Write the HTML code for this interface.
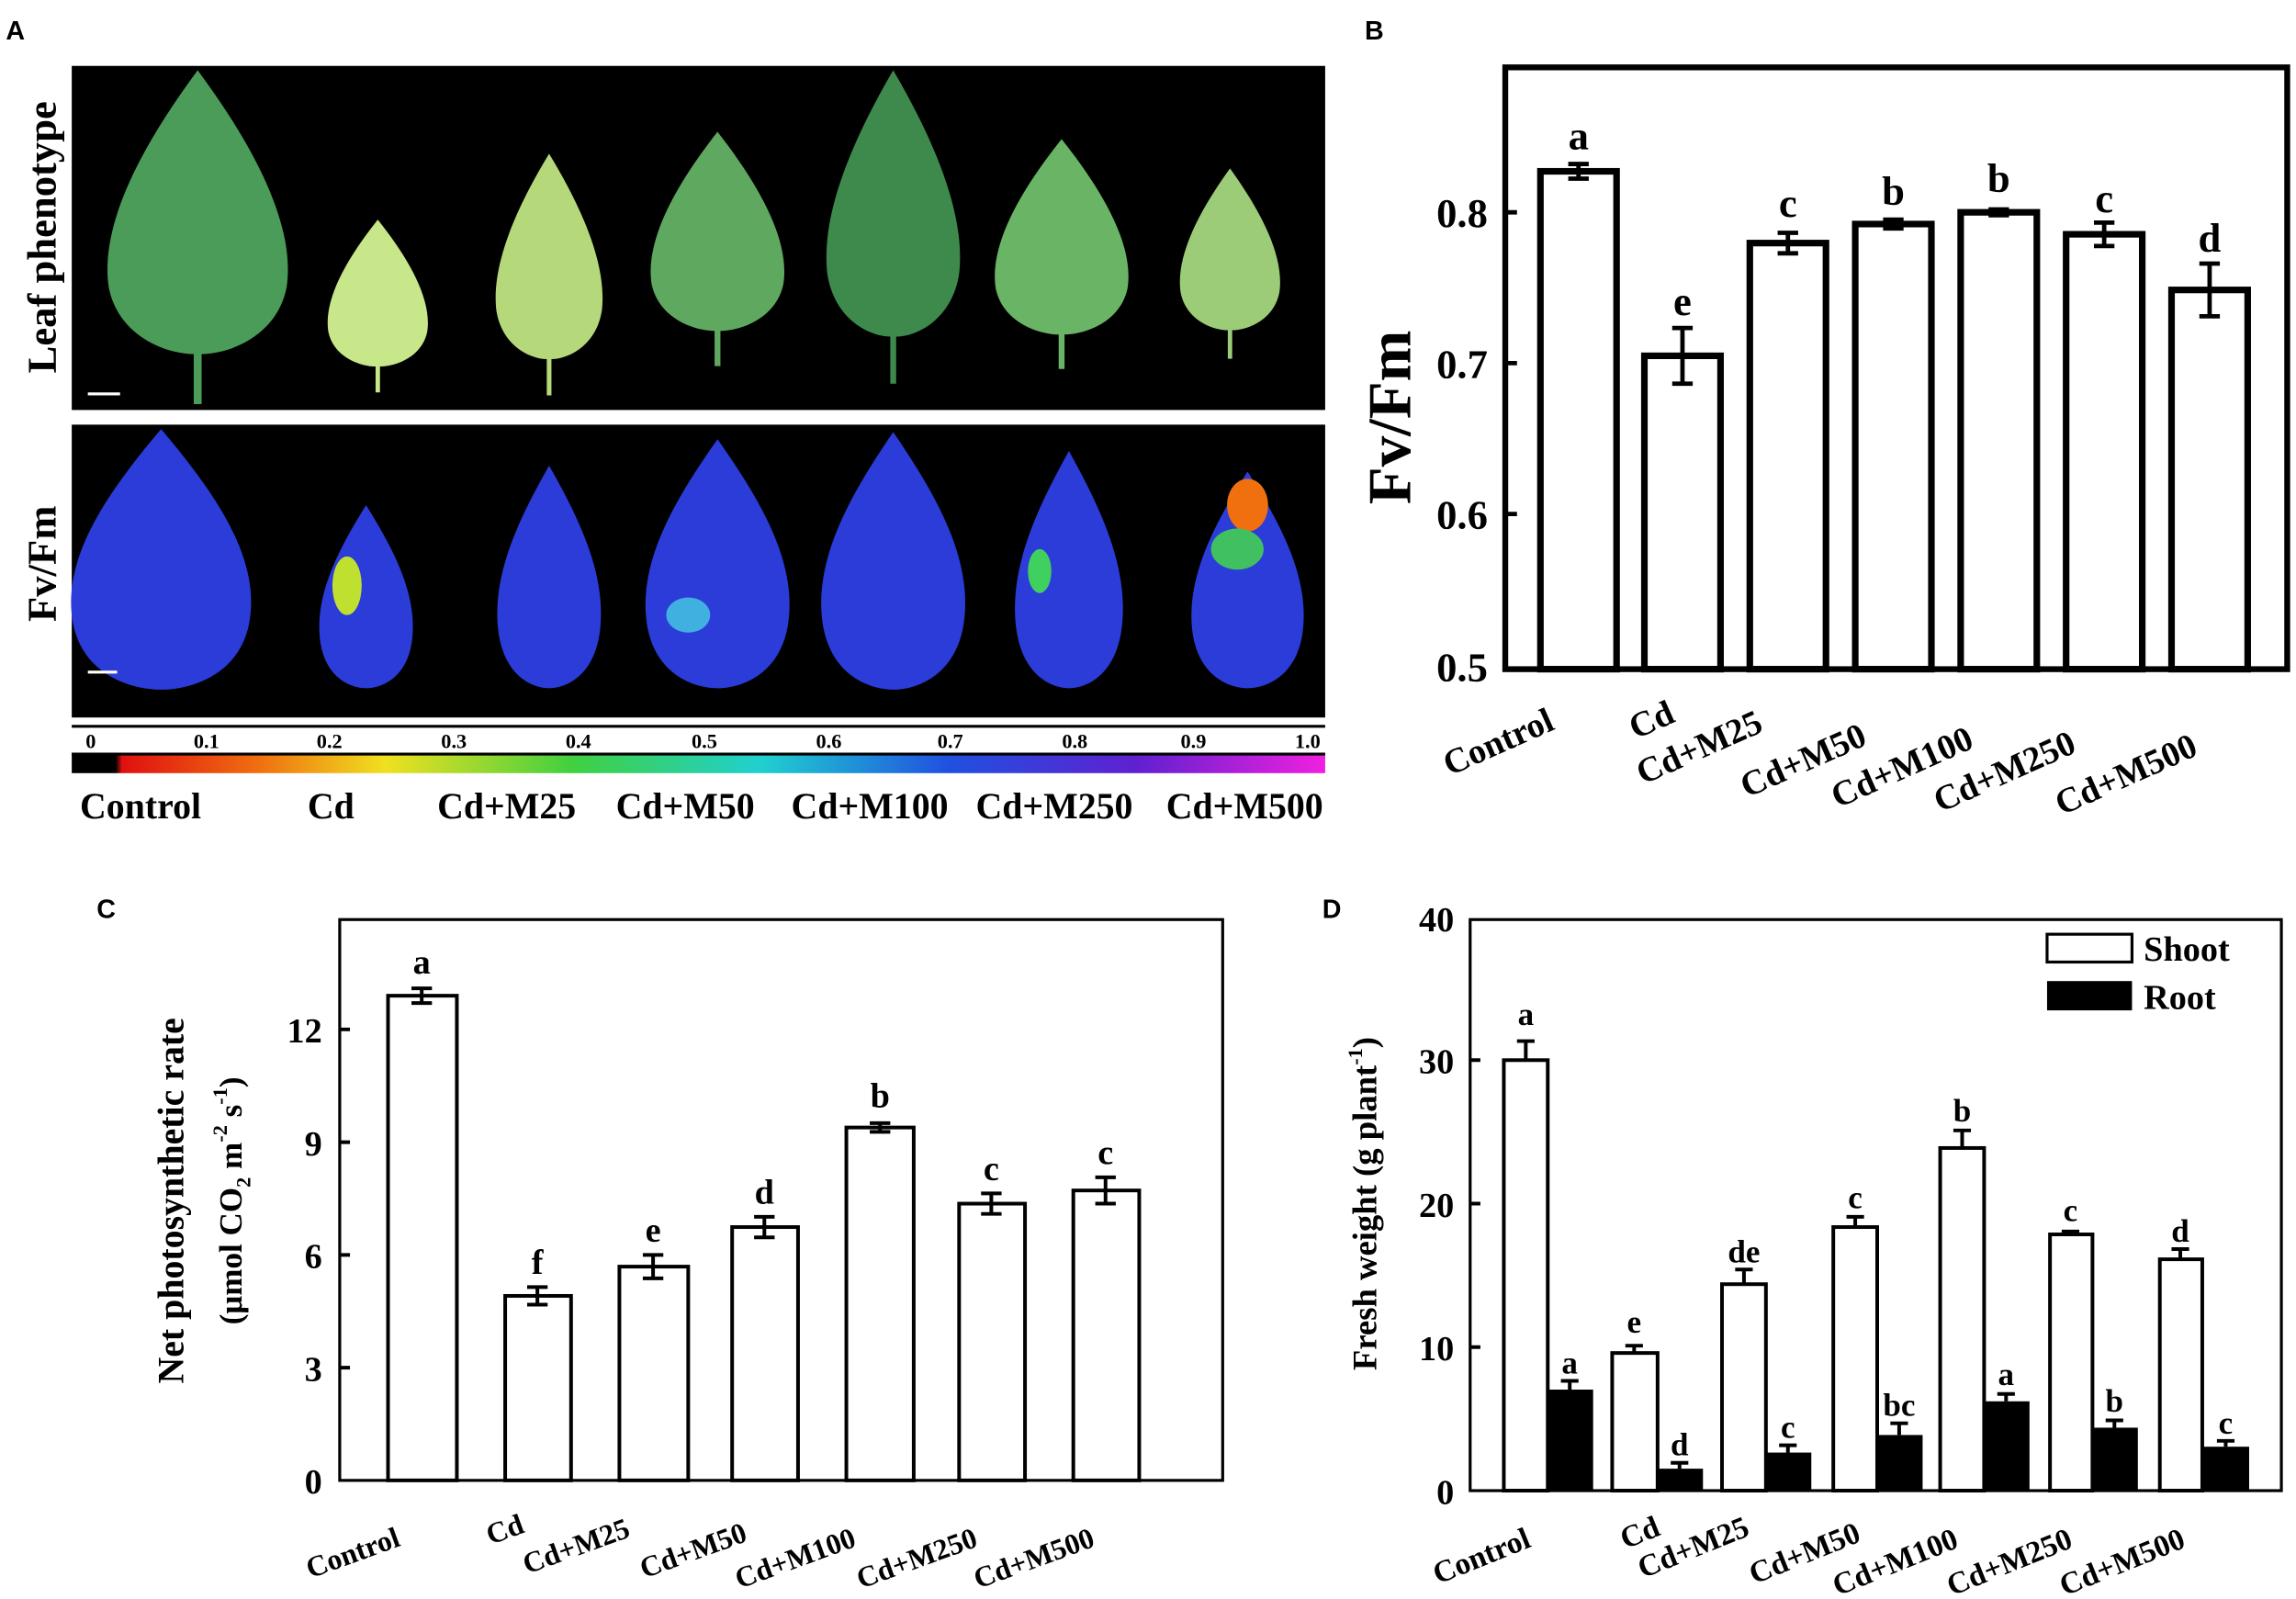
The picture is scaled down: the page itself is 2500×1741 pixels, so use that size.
<!DOCTYPE html>
<html><head><meta charset="utf-8"><style>
html,body{margin:0;padding:0;background:#fff}
svg{display:block}
text{font-family:"Liberation Serif",serif;font-weight:bold;fill:#000}
.s{font-family:"Liberation Sans",sans-serif}
</style></head><body>
<svg width="2500" height="1741" viewBox="0 0 1568 1092" preserveAspectRatio="none" xmlns="http://www.w3.org/2000/svg">
<defs>
<path id="leaf" d="M0,0 C.25,.2 .5,.45 .45,.65 C.4,.8 .15,.85 .02,.85 L.02,1 L-.02,1 L-.02,.85 C-.15,.85 -.4,.8 -.45,.65 C-.5,.45 -.25,.2 0,0 Z"/>
<path id="fl" d="M0,0 C.3,.25 .55,.5 .48,.75 C.42,.95 .15,1 0,1 C-.15,1 -.42,.95 -.48,.75 C-.55,.5 -.3,.25 0,0 Z"/>
<linearGradient id="cb" x1="0" x2="1">
<stop offset="0" stop-color="#000"/><stop offset=".035" stop-color="#000"/><stop offset=".04" stop-color="#e01010"/>
<stop offset=".15" stop-color="#f07010"/><stop offset=".25" stop-color="#f0e020"/><stop offset=".4" stop-color="#40d040"/>
<stop offset=".55" stop-color="#20d0d0"/><stop offset=".7" stop-color="#2050e0"/><stop offset=".85" stop-color="#6020d0"/><stop offset="1" stop-color="#f020e0"/>
</linearGradient>
</defs>
<!-- Panel A -->
<text x="4" y="27" class="s" font-size="18">A</text>
<rect x="49" y="45" width="856" height="235" fill="#000"/>
<rect x="49" y="290" width="856" height="200" fill="#000"/>
<text transform="translate(38,162) rotate(-90)" text-anchor="middle" font-size="28">Leaf phenotype</text>
<text transform="translate(38,385) rotate(-90)" text-anchor="middle" font-size="28">Fv/Fm</text>
<g>
<use href="#leaf" transform="translate(135,48) scale(135,228)" fill="#4a9c58"/>
<use href="#leaf" transform="translate(258,150) scale(75,118)" fill="#c8e68a"/>
<use href="#leaf" transform="translate(375,105) scale(80,165)" fill="#b5d97a"/>
<use href="#leaf" transform="translate(490,90) scale(100,160)" fill="#5fa860"/>
<use href="#leaf" transform="translate(610,48) scale(100,214)" fill="#3d8a4c"/>
<use href="#leaf" transform="translate(725,95) scale(100,157)" fill="#6ab565"/>
<use href="#leaf" transform="translate(840,115) scale(75,130)" fill="#9ccc78"/>
<rect x="60" y="268" width="22" height="2" fill="#fff"/>
</g>
<g fill="#2b3cd8">
<use href="#fl" transform="translate(110,293) scale(125,178)"/>
<use href="#fl" transform="translate(250,345) scale(65,125)"/>
<use href="#fl" transform="translate(375,318) scale(72,152)"/>
<use href="#fl" transform="translate(490,300) scale(100,170)"/>
<use href="#fl" transform="translate(610,295) scale(100,176)"/>
<use href="#fl" transform="translate(730,308) scale(75,162)"/>
<use href="#fl" transform="translate(852,322) scale(78,148)"/>
<ellipse cx="237" cy="400" rx="10" ry="20" fill="#c0e030"/>
<ellipse cx="470" cy="420" rx="15" ry="12" fill="#40b0e0"/>
<ellipse cx="710" cy="390" rx="8" ry="15" fill="#40d060"/>
<ellipse cx="852" cy="345" rx="14" ry="18" fill="#f07010"/>
<ellipse cx="845" cy="375" rx="18" ry="14" fill="#40c060"/>
<rect x="60" y="458" width="20" height="2" fill="#fff"/>
</g>
<line x1="49" y1="496" x2="905" y2="496" stroke="#000" stroke-width="2"/>
<g font-size="14" text-anchor="middle" class="s">
<text x="62" y="511">0</text><text x="141" y="511">0.1</text><text x="225" y="511">0.2</text><text x="310" y="511">0.3</text><text x="395" y="511">0.4</text><text x="481" y="511">0.5</text><text x="566" y="511">0.6</text><text x="649" y="511">0.7</text><text x="734" y="511">0.8</text><text x="815" y="511">0.9</text><text x="893" y="511">1.0</text>
</g>
<rect x="49" y="514" width="856" height="14" fill="url(#cb)"/>
<line x1="49" y1="515" x2="905" y2="515" stroke="#000" stroke-width="2"/>
<g font-size="25" text-anchor="middle">
<text x="96" y="559">Control</text><text x="226" y="559">Cd</text><text x="346" y="559">Cd+M25</text><text x="468" y="559">Cd+M50</text><text x="594" y="559">Cd+M100</text><text x="720" y="559">Cd+M250</text><text x="850" y="559">Cd+M500</text>
</g>
<!-- Panel B -->
<text x="932" y="27" class="s" font-size="18">B</text>
<rect x="1028" y="46" width="534" height="411" fill="#fff" stroke="#000" stroke-width="4"/>
<g fill="#fff" stroke="#000" stroke-width="4.5">
<rect x="1052" y="117" width="52" height="340"/>
<rect x="1123" y="243" width="52" height="214"/>
<rect x="1195" y="166" width="52" height="291"/>
<rect x="1267" y="153" width="52" height="304"/>
<rect x="1339" y="145" width="52" height="312"/>
<rect x="1411" y="160" width="52" height="297"/>
<rect x="1483" y="198" width="52" height="259"/>
</g>
<g stroke="#000" stroke-width="3">
<path d="M1078 112V122M1071 112H1085M1071 122H1085"/>
<path d="M1149 224V262M1142 224H1156M1142 262H1156"/>
<path d="M1221 159V173M1214 159H1228M1214 173H1228"/>
<path d="M1293 150V156M1286 150H1300M1286 156H1300"/>
<path d="M1365 143V147M1358 143H1372M1358 147H1372"/>
<path d="M1437 152V168M1430 152H1444M1430 168H1444"/>
<path d="M1509 180V216M1502 180H1516M1502 216H1516"/>
<path d="M1028 145H1036M1028 248H1036M1028 351H1036"/>
</g>
<g font-size="28" text-anchor="middle">
<text x="1078" y="102">a</text><text x="1149" y="215">e</text><text x="1221" y="148">c</text><text x="1293" y="140">b</text><text x="1365" y="131">b</text><text x="1437" y="145">c</text><text x="1509" y="172">d</text>
</g>
<g font-size="28" text-anchor="end">
<text x="1016" y="155">0.8</text><text x="1016" y="258">0.7</text><text x="1016" y="361">0.6</text><text x="1016" y="465">0.5</text>
</g>
<text transform="translate(963,285) rotate(-90)" text-anchor="middle" font-size="42">Fv/Fm</text>
<g font-size="24">
<text transform="translate(990,530) rotate(-24)">Control</text>
<text transform="translate(1117,505) rotate(-24)">Cd</text>
<text transform="translate(1122,536) rotate(-24)">Cd+M25</text>
<text transform="translate(1193,545) rotate(-24)">Cd+M50</text>
<text transform="translate(1255,552) rotate(-24)">Cd+M100</text>
<text transform="translate(1325,555) rotate(-24)">Cd+M250</text>
<text transform="translate(1408,557) rotate(-24)">Cd+M500</text>
</g>
<!-- Panel C -->
<text x="66" y="627" class="s" font-size="18">C</text>
<g fill="#fff" stroke="#000" stroke-width="2.5">
<rect x="232" y="628" width="603" height="383" stroke-width="2"/>
<rect x="265" y="680" width="47" height="331"/>
<rect x="345" y="885" width="45" height="126"/>
<rect x="423" y="865" width="47" height="146"/>
<rect x="500" y="838" width="45" height="173"/>
<rect x="578" y="770" width="46" height="241"/>
<rect x="655" y="822" width="45" height="189"/>
<rect x="733" y="813" width="45" height="198"/>
</g>
<g stroke="#000" stroke-width="2.5">
<path d="M288 675V685M281 675H295M281 685H295"/>
<path d="M367 879V891M360 879H374M360 891H374"/>
<path d="M446 857V873M439 857H453M439 873H453"/>
<path d="M522 831V845M515 831H529M515 845H529"/>
<path d="M601 767V773M594 767H608M594 773H608"/>
<path d="M677 815V829M670 815H684M670 829H684"/>
<path d="M755 804V822M748 804H762M748 822H762"/>
<path d="M232 703H239M232 780H239M232 857H239M232 934H239"/>
</g>
<g font-size="24" text-anchor="middle">
<text x="288" y="665">a</text><text x="367" y="870">f</text><text x="446" y="848">e</text><text x="522" y="822">d</text><text x="601" y="756">b</text><text x="677" y="806">c</text><text x="755" y="795">c</text>
</g>
<g font-size="24" text-anchor="end">
<text x="220" y="712">12</text><text x="220" y="789">9</text><text x="220" y="866">6</text><text x="220" y="943">3</text><text x="220" y="1020">0</text>
</g>
<text transform="translate(125,820) rotate(-90)" text-anchor="middle" font-size="25">Net photosynthetic rate</text>
<text transform="translate(165,820) rotate(-90)" text-anchor="middle" font-size="22">(μmol CO<tspan font-size="14" dy="6">2</tspan><tspan dy="-6"> m</tspan><tspan font-size="14" dy="-10">-2</tspan><tspan dy="10"> s</tspan><tspan font-size="14" dy="-10">-1</tspan><tspan dy="10">)</tspan></text>
<g font-size="20">
<text transform="translate(212,1078) rotate(-20)">Control</text>
<text transform="translate(335,1055) rotate(-20)">Cd</text>
<text transform="translate(360,1075) rotate(-20)">Cd+M25</text>
<text transform="translate(440,1078) rotate(-20)">Cd+M50</text>
<text transform="translate(505,1085) rotate(-20)">Cd+M100</text>
<text transform="translate(588,1085) rotate(-20)">Cd+M250</text>
<text transform="translate(668,1085) rotate(-20)">Cd+M500</text>
</g>
<!-- Panel D -->
<text x="903" y="627" class="s" font-size="18">D</text>
<rect x="1004" y="628" width="554" height="390" fill="#fff" stroke="#000" stroke-width="2"/>
<g stroke="#000" stroke-width="2.5" fill="#fff">
<rect x="1027" y="724" width="30" height="294"/>
<rect x="1101" y="924" width="31" height="94"/>
<rect x="1176" y="877" width="30" height="141"/>
<rect x="1252" y="838" width="30" height="180"/>
<rect x="1325" y="784" width="30" height="234"/>
<rect x="1400" y="843" width="29" height="175"/>
<rect x="1475" y="860" width="29" height="158"/>
</g>
<g fill="#000">
<rect x="1057" y="949" width="31" height="69"/>
<rect x="1132" y="1003" width="31" height="15"/>
<rect x="1206" y="992" width="31" height="26"/>
<rect x="1282" y="980" width="31" height="38"/>
<rect x="1355" y="957" width="31" height="61"/>
<rect x="1429" y="975" width="31" height="43"/>
<rect x="1504" y="988" width="32" height="30"/>
</g>
<g stroke="#000" stroke-width="2.5">
<path d="M1042 711V724M1036 711H1048"/>
<path d="M1116 919V924M1110 919H1122"/>
<path d="M1191 867V877M1185 867H1197"/>
<path d="M1267 831V838M1261 831H1273"/>
<path d="M1340 772V784M1334 772H1346"/>
<path d="M1414 841V843M1408 841H1420"/>
<path d="M1489 853V860M1483 853H1495"/>
<path d="M1072 943V949M1066 943H1078"/>
<path d="M1147 999V1003M1141 999H1153"/>
<path d="M1221 987V992M1215 987H1227"/>
<path d="M1297 972V980M1291 972H1303"/>
<path d="M1370 952V957M1364 952H1376"/>
<path d="M1444 970V975M1438 970H1450"/>
<path d="M1520 984V988M1514 984H1526"/>
<path d="M1004 724H1011M1004 822H1011M1004 920H1011"/>
</g>
<g font-size="22" text-anchor="middle">
<text x="1042" y="700">a</text><text x="1116" y="910">e</text><text x="1191" y="862">de</text><text x="1267" y="825">c</text><text x="1340" y="766">b</text><text x="1414" y="834">c</text><text x="1489" y="848">d</text>
<text x="1072" y="938">a</text><text x="1147" y="994">d</text><text x="1221" y="982">c</text><text x="1297" y="967">bc</text><text x="1370" y="946">a</text><text x="1444" y="964">b</text><text x="1520" y="979">c</text>
</g>
<g font-size="24" text-anchor="end">
<text x="993" y="636">40</text><text x="993" y="733">30</text><text x="993" y="831">20</text><text x="993" y="929">10</text><text x="993" y="1027">0</text>
</g>
<rect x="1398" y="638" width="58" height="19" fill="#fff" stroke="#000" stroke-width="2"/>
<rect x="1398" y="670" width="58" height="20" fill="#000"/>
<text x="1464" y="656" font-size="24">Shoot</text>
<text x="1464" y="689" font-size="24">Root</text>
<text transform="translate(940,822) rotate(-90)" text-anchor="middle" font-size="23">Fresh weight (g plant<tspan font-size="14" dy="-10">-1</tspan><tspan dy="10">)</tspan></text>
<g font-size="21">
<text transform="translate(982,1082) rotate(-22)">Control</text>
<text transform="translate(1110,1058) rotate(-22)">Cd</text>
<text transform="translate(1122,1078) rotate(-22)">Cd+M25</text>
<text transform="translate(1198,1082) rotate(-22)">Cd+M50</text>
<text transform="translate(1255,1090) rotate(-22)">Cd+M100</text>
<text transform="translate(1333,1090) rotate(-22)">Cd+M250</text>
<text transform="translate(1410,1090) rotate(-22)">Cd+M500</text>
</g>
</svg>
</body></html>
